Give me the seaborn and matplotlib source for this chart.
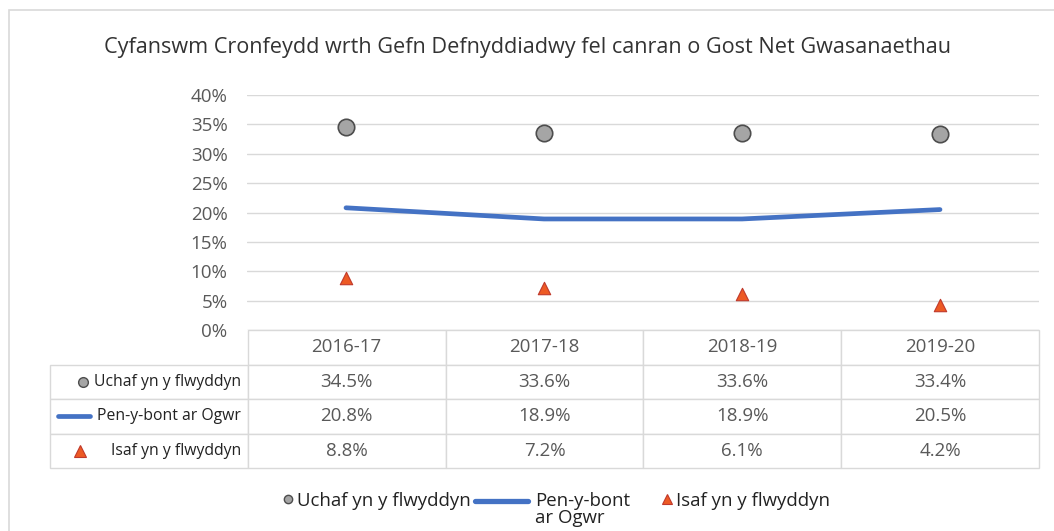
import matplotlib
matplotlib.use("Agg")
import matplotlib.pyplot as plt
import seaborn as sns
import pandas as pd
from matplotlib.ticker import PercentFormatter, MultipleLocator
from matplotlib.lines import Line2D
from matplotlib.patches import Rectangle
from matplotlib.legend_handler import HandlerLine2D

years = ["2016-17", "2017-18", "2018-19", "2019-20"]
uchaf = [34.5, 33.6, 33.6, 33.4]
penybont = [20.8, 18.9, 18.9, 20.5]
isaf = [8.8, 7.2, 6.1, 4.2]

row_names = ["Uchaf yn y flwyddyn", "Pen-y-bont ar Ogwr", "Isaf yn y flwyddyn"]
legend_names = ["Uchaf yn y flwyddyn", "Pen-y-bont\nar Ogwr", "Isaf yn y flwyddyn"]
title = "Cyfanswm Cronfeydd wrth Gefn Defnyddiadwy fel canran o Gost Net Gwasanaethau"

grey_fill, grey_edge = "#a5a5a5", "#4d4d4d"
blue = "#4472c4"
orange, orange_edge = "#ed5a24", "#c0392b"
text_grey = "#595959"
grid_grey = "#d9d9d9"

df = pd.DataFrame({"year": years, "uchaf": uchaf, "pen": penybont, "isaf": isaf})

sns.set_style("white")
plt.rcParams["font.family"] = ["Open Sans", "DejaVu Sans"]

fig = plt.figure(figsize=(10.54, 5.31), dpi=100)
ax = fig.add_axes([247 / 1054, 1 - 330 / 531, 792 / 1054, 235 / 531])

sns.lineplot(data=df, x="year", y="pen", ax=ax, color=blue, linewidth=3.4, sort=False)
sns.scatterplot(data=df, x="year", y="uchaf", ax=ax, s=140, color=grey_fill,
                edgecolor=grey_edge, linewidth=1.2, marker="o", zorder=3)
sns.scatterplot(data=df, x="year", y="isaf", ax=ax, s=80, color=orange,
                edgecolor=orange_edge, linewidth=0.8, marker="^", zorder=3)

ax.set_xlim(-0.5, len(years) - 0.5)
ax.set_ylim(0, 40)
ax.yaxis.set_major_locator(MultipleLocator(5))
ax.yaxis.set_major_formatter(PercentFormatter(100, decimals=0))
ax.grid(axis="y", color=grid_grey, linewidth=1)
ax.set_axisbelow(True)
for s in ax.spines.values():
    s.set_visible(False)
ax.set_xticks([])
ax.set_xlabel("")
ax.set_ylabel("")
ax.tick_params(axis="y", length=0, pad=14, labelsize=13.5, labelcolor=text_grey)

# data table under the plot (first column holds the series names)
cell_text = [[name] + [f"{v:.1f}%" for v in vals]
             for name, vals in zip(row_names, (uchaf, penybont, isaf))]
tbl = ax.table(cellText=cell_text, colLabels=[""] + years, cellLoc="center",
               bbox=[-197 / 792, -138 / 235, 989 / 792, 138 / 235])
tbl.auto_set_font_size(False)
for (r, c), cell in tbl.get_celld().items():
    cell.set_edgecolor(grid_grey)
    cell.set_linewidth(1)
    cell.get_text().set_color(text_grey)
    cell.get_text().set_fontsize(13.5)
    if r == 0 and c == 0:
        cell.visible_edges = ""
    if c == 0:
        cell.PAD = 0.035
        cell._loc = "right"
        cell.get_text().set_ha("right")
        cell.get_text().set_fontsize(11.3)
        cell.get_text().set_color("#222222")

# legend keys inside the row-label cells
key_y = [-0.221, -0.368, -0.514]
ax.plot([-0.207], [key_y[0]], "o", transform=ax.transAxes, clip_on=False,
        ms=7, mfc=grey_fill, mec=grey_edge, mew=1)
ax.plot([-0.2386, -0.1982], [key_y[1], key_y[1]], "-", transform=ax.transAxes,
        clip_on=False, color=blue, lw=3.4, solid_capstyle="round")
ax.plot([-0.2109], [key_y[2]], "^", transform=ax.transAxes, clip_on=False,
        ms=8, mfc=orange, mec=orange_edge, mew=0.8)

fig.text(0.5, 1 - 47 / 531, title, ha="center", va="center", fontsize=15.6, color="#333333")


class RaisedLine(HandlerLine2D):
    """line key drawn level with the first line of a two-line label"""
    def create_artists(self, legend, orig_handle, xdescent, ydescent,
                       width, height, fontsize, trans):
        arts = super().create_artists(legend, orig_handle, xdescent, ydescent,
                                      width, height, fontsize, trans)
        for a in arts:
            a.set_ydata([y + 0.45 * fontsize for y in a.get_ydata()])
        return arts


handles = [
    Line2D([], [], marker="o", ls="none", ms=6, mfc=grey_fill, mec=grey_edge, mew=1),
    Line2D([], [], color=blue, lw=3.8),
    Line2D([], [], marker="^", ls="none", ms=7, mfc=orange, mec=orange_edge, mew=0.8),
]
# one small legend per key, laid out along the bottom
legend_x = [282 / 1054, 475 / 1054, 661 / 1054]
handle_len = [0.6, 2.85, 0.6]
text_pad = [0.2, 0.38, 0.2]
leg_y = 1 - 492 / 531
for h, name, x, hl, tp in zip(handles, legend_names, legend_x, handle_len, text_pad):
    leg = fig.legend([h], [name], loc="upper left", bbox_to_anchor=(x, leg_y),
                     frameon=False, fontsize=13.4, handlelength=hl, handletextpad=tp,
                     borderpad=0, borderaxespad=0,
                     handler_map={h: RaisedLine()} if "\n" in name else None)
    for t in leg.get_texts():
        t.set_color("#222222")
        t.set_linespacing(0.9)

fig.patches.append(Rectangle((9 / 1054, -0.05), 1.1, 1 - 10 / 531 + 0.05,
                             transform=fig.transFigure, fill=False,
                             edgecolor="#d9d9d9", lw=1.2))

fig.savefig("out.png", dpi=100)
